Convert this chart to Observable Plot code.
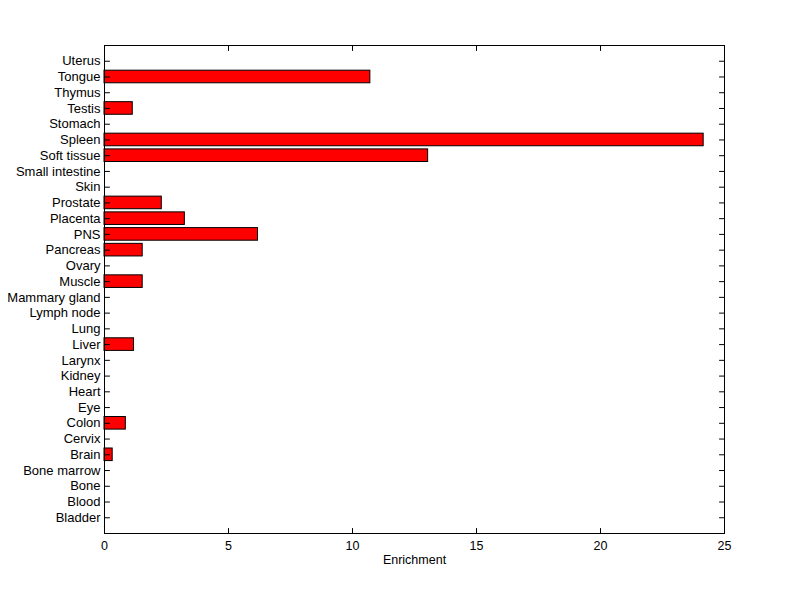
<!DOCTYPE html>
<html>
<head>
<meta charset="utf-8">
<script src="https://cdn.jsdelivr.net/npm/d3@7"></script>
<script src="https://cdn.jsdelivr.net/npm/@observablehq/plot@0.6"></script>
<style>
  html, body { margin: 0; padding: 0; background: #fff; }
  #chart { width: 800px; height: 599px; }
</style>
</head>
<body>
<div id="chart"></div>
<script>
// Categories, top to bottom as displayed
const tissues = [
  "Uterus", "Tongue", "Thymus", "Testis", "Stomach", "Spleen", "Soft tissue",
  "Small intestine", "Skin", "Prostate", "Placenta", "PNS", "Pancreas", "Ovary",
  "Muscle", "Mammary gland", "Lymph node", "Lung", "Liver", "Larynx", "Kidney",
  "Heart", "Eye", "Colon", "Cervix", "Brain", "Bone marrow", "Bone", "Blood", "Bladder"
];
const enrichment = [
  0, 10.72, 0, 1.14, 0, 24.16, 13.05,
  0, 0, 2.31, 3.24, 6.19, 1.54, 0,
  1.54, 0, 0, 0, 1.19, 0, 0,
  0, 0, 0.86, 0, 0.33, 0, 0, 0, 0
];
const xTicks = [0, 5, 10, 15, 20, 25];
const xLabel = "Enrichment";

const data = tissues.map((t, i) => ({tissue: t, value: enrichment[i]}));
const bars = data.filter(d => d.value > 0);

const lineShape = {
  draw(context, l) {
    context.moveTo(0, 0);
    context.lineTo(0, -l);
  }
};

const font = "Liberation Sans, Arial, Helvetica, sans-serif";

const chart = Plot.plot({
  width: 800,
  height: 599,
  marginLeft: 104,
  marginRight: 76,
  marginTop: 45,
  marginBottom: 66,
  style: {background: "#fff", overflow: "visible"},
  x: {domain: [0, 25], ticks: xTicks},
  y: {domain: tissues, paddingInner: 0.2, paddingOuter: 0.6, align: 0.5, round: false},
  marks: [
    Plot.barX(bars, {x: "value", y: "tissue", fill: "#ff0000", stroke: "#000", strokeWidth: 1}),
    Plot.frame({stroke: "#000", strokeWidth: 1}),
    // inward tick marks (MATLAB style)
    Plot.vector(tissues, {x: 0, y: d => d, length: 5, rotate: 90, anchor: "start", shape: lineShape, stroke: "#000", strokeWidth: 1}),
    Plot.vector(tissues, {x: 25, y: d => d, length: 5, rotate: -90, anchor: "start", shape: lineShape, stroke: "#000", strokeWidth: 1}),
    Plot.vector(xTicks, {x: d => d, frameAnchor: "bottom", length: 5, rotate: 0, anchor: "start", shape: lineShape, stroke: "#000", strokeWidth: 1}),
    Plot.vector(xTicks, {x: d => d, frameAnchor: "top", length: 5, rotate: 180, anchor: "start", shape: lineShape, stroke: "#000", strokeWidth: 1}),
    Plot.axisY({anchor: "left", tickSize: 0, tickPadding: 4, label: null, fontSize: 13, fontFamily: font, fill: "#000"}),
    Plot.axisX({anchor: "bottom", ticks: xTicks, tickSize: 0, tickPadding: 8, label: null, fontSize: 12.5, fontFamily: font, fill: "#000"}),
    Plot.text([xLabel], {frameAnchor: "bottom", dy: 30, fontSize: 12.5, fontFamily: font, fill: "#000"})
  ]
});
document.getElementById("chart").appendChild(chart);
</script>
</body>
</html>
